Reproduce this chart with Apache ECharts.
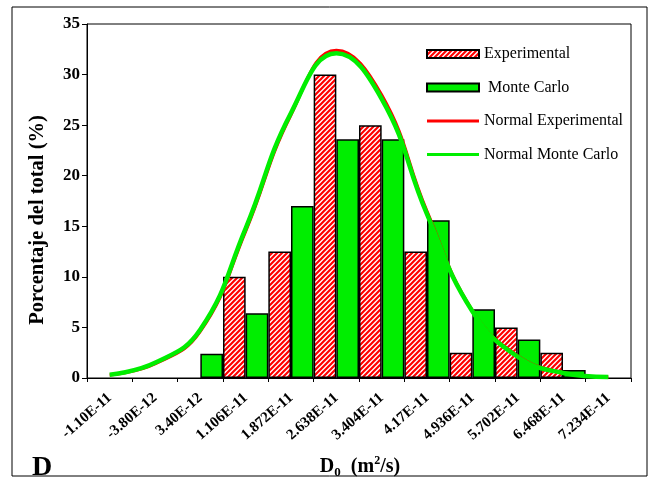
<!DOCTYPE html>
<html><head><meta charset="utf-8">
<script src="https://cdn.jsdelivr.net/npm/echarts@6/dist/echarts.min.js"></script>
<style>html,body{margin:0;padding:0;background:#fff}#c{width:652px;height:481px}</style>
</head><body><div id="c"></div>
<script>
const categories = ['-1.10E-11','-3.80E-12','3.40E-12','1.106E-11','1.872E-11','2.638E-11','3.404E-11','4.17E-11','4.936E-11','5.702E-11','6.468E-11','7.234E-11'];
const experimental = [null, null, null, 10, 12.5, 30, 25, 12.5, 2.5, 5, 2.5, null];
const monteCarlo = [null, null, 2.4, 6.4, 17, 23.6, 23.6, 15.6, 6.8, 3.8, 0.8, null];
const normalExperimental = [0.3, 1.4, 4.6, 14.5, 26.0, 32.4, 28.0, 16.5, 6.7, 2.2, 0.55, 0.1];
const normalMonteCarlo = [0.33, 1.5, 4.8, 14.8, 26.2, 32.1, 27.6, 16.2, 6.6, 2.1, 0.5, 0.1];
const yMin = 0, yMax = 35, yStep = 5;

function hatch(){
  const s = 5, c = document.createElement('canvas');
  c.width = s; c.height = s;
  const x = c.getContext('2d');
  x.fillStyle = '#ffffff'; x.fillRect(0, 0, s, s);
  x.strokeStyle = '#ff0000'; x.lineWidth = 2.2;
  x.beginPath();
  x.moveTo(-1, 1); x.lineTo(1, -1);
  x.moveTo(0, s); x.lineTo(s, 0);
  x.moveTo(s - 1, s + 1); x.lineTo(s + 1, s - 1);
  x.stroke();
  return c;
}
const serif = 'Liberation Serif, Times New Roman, serif';
// thick horizontal line icon centred in the legend item box
const lineIcon = 'path://M0,0h0.01v0.01h-0.01z M0,2.5h52v3h-52z M0,7.99h0.01v0.01h-0.01z';
const pattern = hatch();
const chart = echarts.init(document.getElementById('c'), null, {renderer: 'canvas'});
chart.setOption({
  animation: false,
  backgroundColor: '#fff',
  grid: {left: 87, top: 24, width: 544, height: 354, show: true, borderColor: '#000', borderWidth: 1, containLabel: false},
  legend: {
    orient: 'vertical', left: 426, top: 46, padding: 0, itemWidth: 52, itemHeight: 8, itemGap: 17.5,
    textStyle: {fontFamily: serif, fontSize: 16, color: '#000'},
    formatter: n => n === 'Monte Carlo' ? ' ' + n : n,
    data: [
      {name: 'Experimental', icon: 'rect'},
      {name: 'Monte Carlo', icon: 'rect'},
      {name: 'Normal Experimental', icon: lineIcon, itemStyle: {color: '#ff0000', borderWidth: 0}},
      {name: 'Normal Monte Carlo', icon: lineIcon, itemStyle: {color: '#00ee00', borderWidth: 0}}
    ]
  },
  xAxis: {
    type: 'category', data: categories, boundaryGap: true,
    axisLine: {lineStyle: {color: '#000', width: 1}},
    axisTick: {show: true, interval: 0, length: 4, lineStyle: {color: '#000'}},
    axisLabel: {interval: 0, rotate: 41, margin: 18, color: '#000', fontFamily: serif, fontWeight: 'bold', fontSize: 15},
    splitLine: {show: false}
  },
  yAxis: {
    type: 'value', min: yMin, max: yMax, interval: yStep,
    axisLine: {show: true, lineStyle: {color: '#000', width: 1}},
    axisTick: {show: true, length: 5, lineStyle: {color: '#000'}},
    axisLabel: {margin: 7, color: '#000', fontFamily: serif, fontWeight: 'bold', fontSize: 17},
    splitLine: {show: false}
  },
  series: [
    {name: 'Experimental', type: 'bar', data: experimental, barGap: '0%', barCategoryGap: '0%',
     itemStyle: {color: {image: pattern, repeat: 'repeat'}, borderColor: '#000', borderWidth: 1.5}},
    {name: 'Monte Carlo', type: 'bar', data: monteCarlo, barGap: '0%', barCategoryGap: '0%',
     itemStyle: {color: '#00ee00', borderColor: '#000', borderWidth: 1.5}},
    {name: 'Normal Experimental', type: 'line', data: normalExperimental, smooth: 0.45, symbol: 'none',
     lineStyle: {color: '#ff0000', width: 3}, itemStyle: {color: '#ff0000'}},
    {name: 'Normal Monte Carlo', type: 'line', data: normalMonteCarlo, smooth: 0.45, symbol: 'none',
     lineStyle: {color: '#00ee00', width: 4.5}, itemStyle: {color: '#00ee00'}}
  ],
  graphic: [
    {type: 'rect', shape: {x: 12, y: 7, width: 635, height: 469}, style: {fill: 'none', stroke: '#000', lineWidth: 1}, silent: true, z: -1},
    {type: 'text', x: 38, y: 220, rotation: Math.PI / 2,
     style: {text: 'Porcentaje del total (%)', fontFamily: serif, fontWeight: 'bold', fontSize: 20.5, fill: '#000', align: 'center', verticalAlign: 'middle'}},
    {type: 'text', x: 360, y: 467,
     style: {text: '{b|D}{s|0}{b|  (m}{p|2}{b|/s)}', align: 'center', verticalAlign: 'middle',
       rich: {
         b: {fontFamily: serif, fontWeight: 'bold', fontSize: 20, lineHeight: 24, fill: '#000'},
         s: {fontFamily: serif, fontWeight: 'bold', fontSize: 13, lineHeight: 13, verticalAlign: 'bottom', fill: '#000'},
         p: {fontFamily: serif, fontWeight: 'bold', fontSize: 12, lineHeight: 12, verticalAlign: 'top', fill: '#000'}
       }}},
    {type: 'text', x: 32, y: 454,
     style: {text: 'D', fontFamily: serif, fontWeight: 'bold', fontSize: 28, fill: '#000'}}
  ]
});
</script></body></html>
